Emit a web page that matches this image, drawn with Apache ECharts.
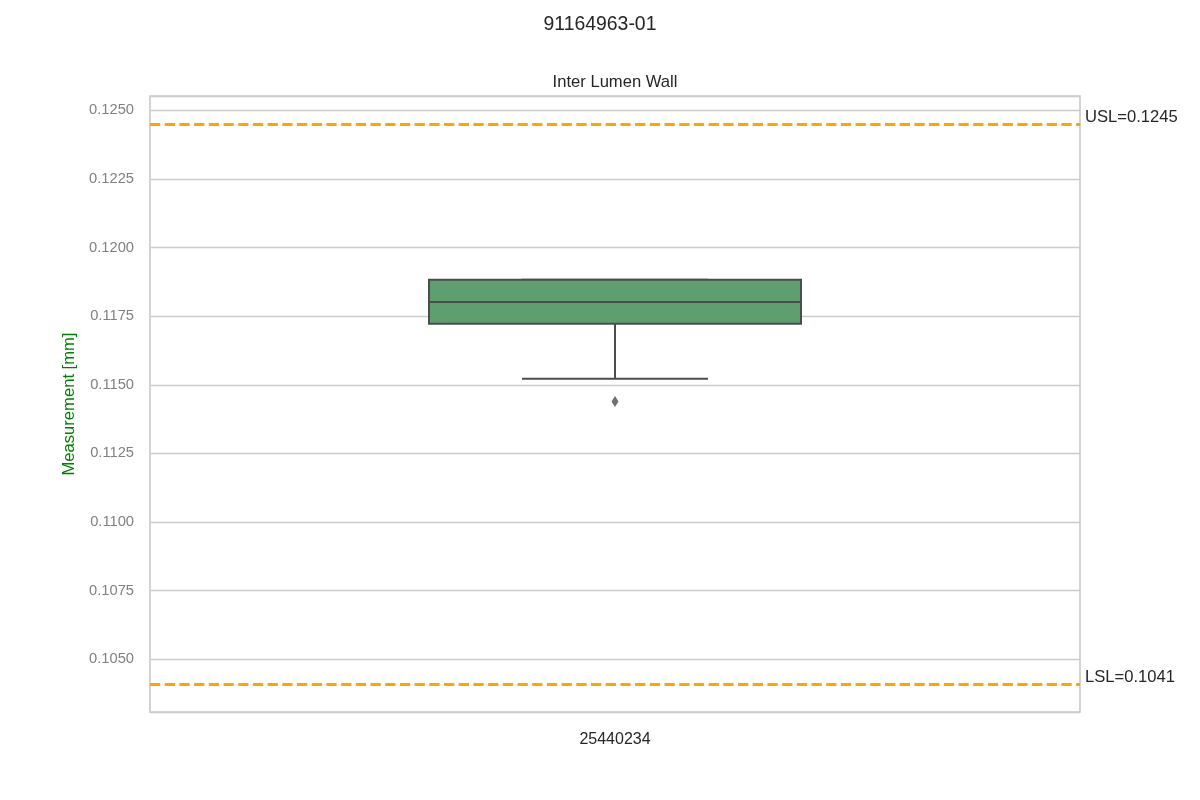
<!DOCTYPE html>
<html>
<head>
<meta charset="utf-8">
<script src="https://cdn.jsdelivr.net/npm/echarts@6/dist/echarts.min.js"></script>
<style>
  html, body { margin: 0; padding: 0; background: #ffffff; }
  #chart { width: 1200px; height: 800px; }
</style>
</head>
<body>
<div id="chart"></div>
<script>
// ---- data ----
const chartTitle = '91164963-01';
const panelTitle = 'Inter Lumen Wall';
const yAxisName = 'Measurement [mm]';
const categories = ['25440234'];
const whiskerLow = [0.11522];
const q1 = [0.11722];
const median = [0.11802];
const q3 = [0.11883];
const whiskerHigh = [0.11883];
const outliers = [[0.11439]];
const specNames = ['USL', 'LSL'];
const specValues = [0.1245, 0.1041];
const yRange = [0.10308, 0.12552];
const yTickStep = 0.0025;

const FONT = '"Liberation Sans", Arial, sans-serif';

const boxData = categories.map((c, i) => [i, whiskerLow[i], q1[i], median[i], q3[i], whiskerHigh[i]]);
const outlierData = [];
categories.forEach((c, i) => outliers[i].forEach(v => outlierData.push([i, v])));

const chart = echarts.init(document.getElementById('chart'), null, { renderer: 'canvas' });

const option = {
  backgroundColor: '#ffffff',
  animation: false,
  title: [
    { text: chartTitle, left: 'center', top: 15, padding: 0,
      textStyle: { fontFamily: FONT, fontSize: 19.4, fontWeight: 'normal', color: '#262626' } },
    { text: panelTitle, left: 615, textAlign: 'center', top: 74, padding: 0,
      textStyle: { fontFamily: FONT, fontSize: 16.6, fontWeight: 'normal', color: '#262626' } }
  ],
  grid: {
    left: 150, top: 96, width: 930, height: 616,
    show: true, borderColor: '#cccccc', borderWidth: 1.7, backgroundColor: 'transparent',
    containLabel: false, outerBoundsMode: 'none'
  },
  xAxis: {
    type: 'category',
    data: categories,
    axisLine: { show: false },
    axisTick: { show: false },
    splitLine: { show: false },
    axisLabel: { color: '#262626', fontSize: 16, fontFamily: FONT, margin: 20 }
  },
  yAxis: {
    type: 'value',
    min: yRange[0],
    max: yRange[1],
    minInterval: yTickStep,
    maxInterval: yTickStep,
    splitNumber: 9,
    name: yAxisName,
    nameLocation: 'middle',
    nameGap: 66,
    nameTextStyle: { color: '#008000', fontSize: 16.6, fontFamily: FONT },
    axisLine: { show: false },
    axisTick: { show: false },
    axisLabel: {
      color: '#808080', fontSize: 14.7, fontFamily: FONT, margin: 16,
      showMinLabel: false, showMaxLabel: false,
      formatter: v => v.toFixed(4)
    },
    splitLine: { show: true, lineStyle: { color: '#cccccc', width: 1.4 } }
  },
  series: [
    {
      type: 'custom',
      name: 'box',
      data: boxData,
      encode: { x: 0, y: [1, 2, 3, 4, 5] },
      z: 3,
      renderItem: function (params, api) {
        const x = api.value(0);
        const lo = api.coord([x, api.value(1)]);
        const b1 = api.coord([x, api.value(2)]);
        const md = api.coord([x, api.value(3)]);
        const b3 = api.coord([x, api.value(4)]);
        const hi = api.coord([x, api.value(5)]);
        const bw = api.size([1, 0])[0] * 0.4;
        const cw = bw / 2;
        const cx = md[0];
        const st = { stroke: '#4c4c4c', lineWidth: 2 };
        return {
          type: 'group',
          children: [
            { type: 'line', shape: { x1: cx, y1: b1[1], x2: cx, y2: lo[1] }, style: st },
            { type: 'line', shape: { x1: cx, y1: b3[1], x2: cx, y2: hi[1] }, style: st },
            { type: 'line', shape: { x1: cx - cw / 2, y1: lo[1], x2: cx + cw / 2, y2: lo[1] }, style: st },
            { type: 'line', shape: { x1: cx - cw / 2, y1: hi[1], x2: cx + cw / 2, y2: hi[1] }, style: st },
            { type: 'rect', shape: { x: cx - bw / 2, y: b3[1], width: bw, height: b1[1] - b3[1] },
              style: { fill: '#5f9e6e', stroke: '#4c4c4c', lineWidth: 2 } },
            { type: 'line', shape: { x1: cx - bw / 2, y1: md[1], x2: cx + bw / 2, y2: md[1] }, style: st }
          ]
        };
      }
    },
    {
      type: 'scatter',
      name: 'outliers',
      data: outlierData,
      symbol: 'diamond',
      symbolSize: [7, 11],
      itemStyle: { color: '#4c4c4c' },
      z: 4,
      markLine: {
        silent: true,
        symbol: 'none',
        animation: false,
        precision: 4,
        lineStyle: { color: '#FFA500', type: [10.3, 4.4], width: 2.8 },
        label: {
          show: true,
          position: 'end',
          distance: 5,
          color: '#262626',
          fontSize: 16.6,
          fontFamily: FONT,
          verticalAlign: 'bottom',
          lineHeight: 13,
          formatter: p => p.name + '=' + p.value
        },
        data: specNames.map((n, i) => ({ name: n, yAxis: specValues[i] }))
      }
    }
  ]
};

chart.setOption(option);
</script>
</body>
</html>
